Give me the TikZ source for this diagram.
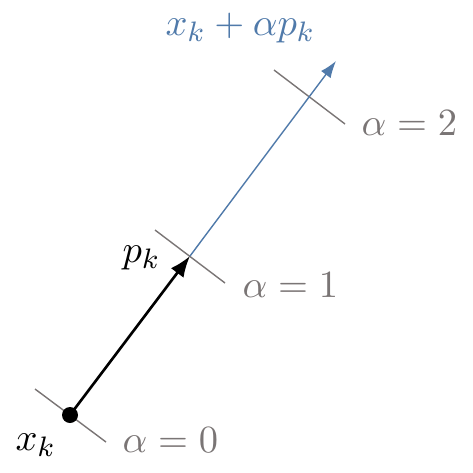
\documentclass[tikz,border=0pt]{standalone}
\usepackage{amsmath}
\usetikzlibrary{arrows.meta}
\definecolor{tickgray}{RGB}{122,117,117}
\definecolor{lineblue}{RGB}{80,122,170}

\begin{document}
\begin{tikzpicture}[x=0.01cm,y=-0.01cm,font=\fontsize{11.2}{13}\selectfont,
	tick/.style={tickgray,line width=0.4pt},
	lbl/.style={anchor=base west,inner sep=0pt}]
	\useasboundingbox (0,0) rectangle (473,472);
	
	\coordinate (x) at (70,415);
	\coordinate (p) at (190,256);
	\coordinate (a2) at (310,97);
	\coordinate (end) at (336,61);
	
	\coordinate (t0a) at (35,389);
	\coordinate (t0b) at (106,442);
	\coordinate (t1a) at (155,230);
	\coordinate (t1b) at (225,283);
	\coordinate (t2a) at (274,70);
	\coordinate (t2b) at (345,124);
	
	\node[lbl] (xk) at (15,450) {$x_k$};
	\node[lbl] (pk) at (122,262) {$p_k$};
	\node[lbl,text=tickgray] (al0) at (122,452) {$\alpha = 0$};
	\node[lbl,text=tickgray] (al1) at (242,297) {$\alpha = 1$};
	\node[lbl,text=tickgray] (al2) at (361,135) {$\alpha = 2$};
	\node[lbl,text=lineblue] (ray) at (165,35) {$x_k + \alpha p_k$};
	
	\path[tick] (t0a) edge (t0b);
	\path[tick] (t1a) edge (t1b);
	\path[tick] (t2a) edge (t2b);
	
	\draw[lineblue,line width=0.4pt,-{Latex[length=4.8pt,width=3.4pt]}] (p) -- (end);
	\draw[line width=0.75pt,-{Latex[length=6pt,width=4.5pt]}] (x) -- (p);
	\fill (x) circle (8);
	
\end{tikzpicture}
\end{document}
